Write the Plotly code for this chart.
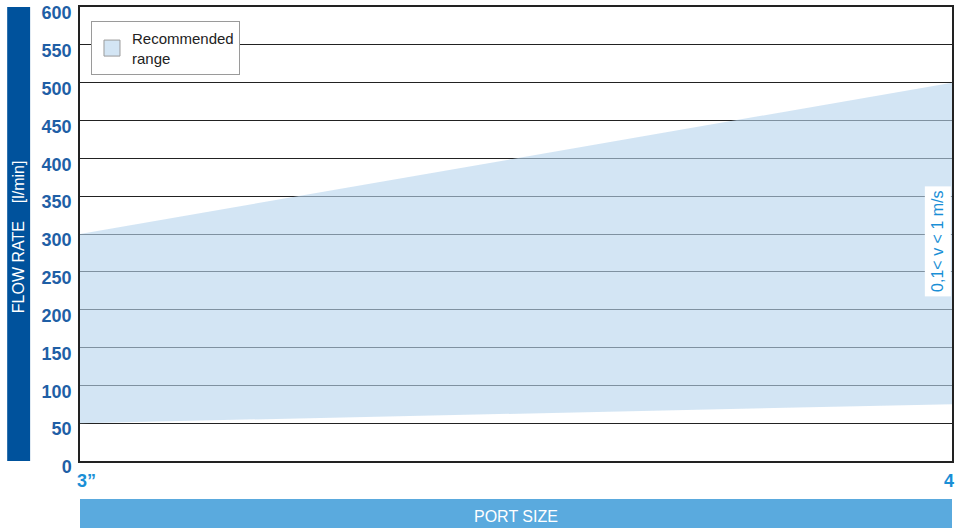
import plotly.graph_objects as go

# Data
port_sizes = ["3\u201d", "4"]
port_pos = [0, 1]
flow_min = [50, 75]
flow_max = [300, 500]
y_ticks = [0, 50, 100, 150, 200, 250, 300, 350, 400, 450, 500, 550, 600]
legend_label = "Recommended<br>range"
velocity_note = "0,1< v < 1 m/s"
y_title = "FLOW RATE\u00a0\u00a0\u00a0\u00a0[l/min]"
x_title = "PORT SIZE"

fig = go.Figure()
fig.add_trace(go.Scatter(x=port_pos, y=flow_min, mode="lines", line=dict(width=0),
                         showlegend=False, hoverinfo="skip"))
fig.add_trace(go.Scatter(x=port_pos, y=flow_max, mode="lines", line=dict(width=0),
                         fill="tonexty", fillcolor="rgba(184,213,237,0.62)",
                         name=legend_label, showlegend=False))
# legend swatch
fig.add_trace(go.Scatter(x=[None], y=[None], mode="markers", name=legend_label,
                         marker=dict(symbol="square", size=20, color="#d3e5f4",
                                     line=dict(color="#9a9a9a", width=1)),
                         showlegend=True))

fig.update_layout(
    width=956, height=528,
    margin=dict(l=80, r=2, t=7, b=67),
    paper_bgcolor="white", plot_bgcolor="white",
    showlegend=True,
    legend=dict(x=0.0126, y=0.969, xanchor="left", yanchor="top",
                bgcolor="white", bordercolor="#9a9a9a", borderwidth=1,
                font=dict(family="Liberation Sans Narrow, Liberation Sans, Arial", size=15, color="#222222"),
                itemwidth=30, tracegroupgap=0),
    xaxis=dict(range=[0, 1], tickvals=port_pos, ticktext=port_sizes, showticklabels=False,
               showgrid=False, zeroline=False, showline=True, linecolor="#222222",
               linewidth=1.5, mirror=True, fixedrange=True),
    yaxis=dict(range=[0, 600], tickvals=y_ticks, showgrid=True, gridcolor="#222222",
               gridwidth=1, zeroline=False, showline=True, linecolor="#222222",
               linewidth=1.5, mirror=True, ticks="", ticklabelstandoff=3,
               ticklabelshift=6,
               tickfont=dict(family="Liberation Sans, Arial", size=18, color="#1f5fa6",
                             weight="bold")),
)

# left title bar
fig.add_shape(type="rect", xref="paper", yref="paper", x0=-0.0835, x1=-0.0572, y0=0, y1=1,
              fillcolor="#00529c", line=dict(width=0), layer="above")
fig.add_annotation(xref="paper", yref="paper", x=-0.0703, y=0.4945, text=y_title, textangle=-90,
                   showarrow=False, xanchor="center", yanchor="middle",
                   font=dict(family="Liberation Sans, Arial", size=16, color="white"))

# bottom title bar
fig.add_shape(type="rect", xref="paper", yref="paper", x0=0, x1=1, y0=-0.1476, y1=-0.0837,
              fillcolor="#5aaade", line=dict(width=0), layer="above")
fig.add_annotation(xref="paper", yref="paper", x=0.5, y=-0.1216, text=x_title, showarrow=False,
                   xanchor="center", yanchor="middle",
                   font=dict(family="Liberation Sans, Arial", size=16, color="white"))

# x tick labels
fig.add_annotation(xref="x", yref="paper", x=port_pos[0], y=-0.044, text=port_sizes[0],
                   showarrow=False, xanchor="left", yanchor="middle", xshift=-5,
                   font=dict(family="Liberation Sans, Arial", size=18, color="#1a8fd6", weight="bold"))
fig.add_annotation(xref="x", yref="paper", x=port_pos[1], y=-0.044, text=port_sizes[1],
                   showarrow=False, xanchor="right", yanchor="middle", xshift=4,
                   font=dict(family="Liberation Sans, Arial", size=18, color="#1a8fd6", weight="bold"))

# velocity note
fig.add_annotation(xref="paper", yref="paper", x=0.9835, y=0.484, text=velocity_note, textangle=-90,
                   showarrow=False, bgcolor="white", borderpad=4, xanchor="center", yanchor="middle",
                   font=dict(family="Liberation Sans, Arial", size=16, color="#1a8fd6"))

fig.write_html("out.html", config={"displayModeBar": False},
               post_script="document.body.style.margin='0';document.body.style.overflow='hidden';")
